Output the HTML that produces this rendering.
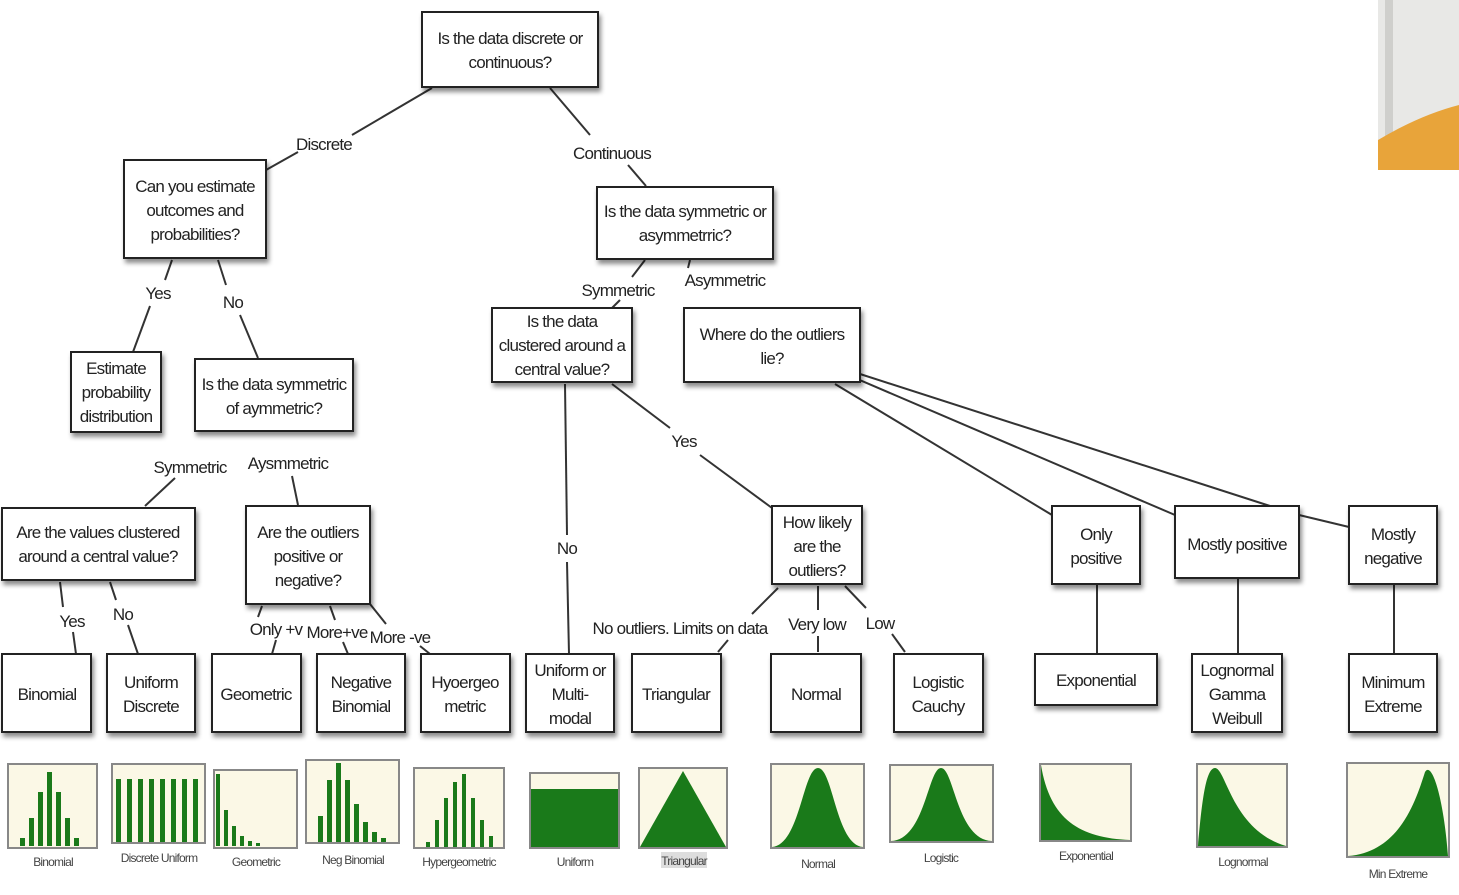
<!DOCTYPE html>
<html><head><meta charset="utf-8"><style>
html,body{margin:0;padding:0;background:#fff;}
svg{display:block;}
text{font-family:"Liberation Sans",sans-serif;font-size:17px;fill:#222;letter-spacing:-0.8px;}
.b{fill:#fff;stroke:#222;stroke-width:2;filter:url(#sh);}
.l{stroke:#333;stroke-width:2;fill:none;}
.t{fill:#fbf8e6;stroke:#888;stroke-width:2;}
.g{fill:#1a7a1a;}
.s{font-size:12px;fill:#444;}
</style></head><body>
<svg width="1459" height="895" viewBox="0 0 1459 895">
<defs><filter id="sh" x="-10%" y="-10%" width="130%" height="140%"><feDropShadow dx="2" dy="4" stdDeviation="2.5" flood-color="#000" flood-opacity="0.45"/></filter></defs>
<!-- photo -->
<rect x="1378" y="0" width="81" height="170" fill="#e8e8e6"/>
<rect x="1385" y="0" width="8" height="170" fill="#cfcfcc"/>
<path d="M1378 170 L1378 140 Q1420 115 1459 105 L1459 170 Z" fill="#e8a43a"/>
<!-- lines -->
<g class="l">
<line x1="432" y1="88" x2="352" y2="135"/><line x1="298" y1="152" x2="266" y2="170"/>
<line x1="550" y1="88" x2="590" y2="135"/><line x1="628" y1="165" x2="646" y2="186"/>
<line x1="172" y1="260" x2="165" y2="280"/><line x1="150" y1="306" x2="133" y2="352"/>
<line x1="218" y1="260" x2="226" y2="285"/><line x1="240" y1="315" x2="258" y2="358"/>
<line x1="645" y1="260" x2="632" y2="277"/><line x1="620" y1="300" x2="612" y2="308"/>
<line x1="690" y1="260" x2="688" y2="268"/>
<line x1="565" y1="384" x2="567" y2="535"/><line x1="567" y1="562" x2="569" y2="654"/>
<line x1="612" y1="384" x2="670" y2="428"/><line x1="700" y1="455" x2="772" y2="508"/>
<line x1="835" y1="384" x2="1052" y2="515"/>
<line x1="855" y1="378" x2="1175" y2="515"/>
<line x1="860" y1="374" x2="1270" y2="506"/><line x1="1299" y1="515" x2="1349" y2="527"/>
<line x1="175" y1="478" x2="145" y2="506"/>
<line x1="292" y1="476" x2="298" y2="505"/>
<line x1="60" y1="582" x2="63" y2="607"/><line x1="73" y1="632" x2="76" y2="654"/>
<line x1="110" y1="582" x2="116" y2="600"/><line x1="128" y1="625" x2="138" y2="654"/>
<line x1="262" y1="606" x2="258" y2="617"/><line x1="276" y1="640" x2="272" y2="654"/>
<line x1="330" y1="606" x2="335" y2="620"/><line x1="343" y1="642" x2="348" y2="654"/>
<line x1="370" y1="604" x2="386" y2="624"/><line x1="420" y1="646" x2="430" y2="654"/>
<line x1="778" y1="588" x2="752" y2="614"/><line x1="728" y1="640" x2="718" y2="652"/>
<line x1="818" y1="586" x2="818" y2="610"/><line x1="818" y1="636" x2="818" y2="652"/>
<line x1="845" y1="586" x2="866" y2="608"/><line x1="892" y1="634" x2="905" y2="652"/>
<line x1="1097" y1="584" x2="1097" y2="654"/>
<line x1="1238" y1="578" x2="1238" y2="654"/>
<line x1="1394" y1="584" x2="1394" y2="654"/>
</g>
<!-- boxes -->
<rect class="b" x="422" y="12" width="176" height="75"/>
<text x="510" y="44" text-anchor="middle">Is the data discrete or</text><text x="510" y="68" text-anchor="middle">continuous?</text>
<rect class="b" x="124" y="160" width="142" height="98"/>
<text x="195" y="192" text-anchor="middle">Can you estimate</text><text x="195" y="216" text-anchor="middle">outcomes and</text><text x="195" y="240" text-anchor="middle">probabilities?</text>
<rect class="b" x="597" y="187" width="176" height="72"/>
<text x="685" y="217" text-anchor="middle">Is the data symmetric or</text><text x="685" y="241" text-anchor="middle">asymmetrric?</text>
<rect class="b" x="71" y="352" width="90" height="80"/>
<text x="116" y="374" text-anchor="middle">Estimate</text><text x="116" y="398" text-anchor="middle">probability</text><text x="116" y="422" text-anchor="middle">distribution</text>
<rect class="b" x="195" y="359" width="158" height="72"/>
<text x="274" y="390" text-anchor="middle">Is the data symmetric</text><text x="274" y="414" text-anchor="middle">of aymmetric?</text>
<rect class="b" x="492" y="308" width="140" height="74"/>
<text x="562" y="327" text-anchor="middle">Is the data</text><text x="562" y="351" text-anchor="middle">clustered around a</text><text x="562" y="375" text-anchor="middle">central value?</text>
<rect class="b" x="684" y="308" width="176" height="74"/>
<text x="772" y="340" text-anchor="middle">Where do the outliers</text><text x="772" y="364" text-anchor="middle">lie?</text>
<rect class="b" x="2" y="508" width="193" height="72"/>
<text x="98" y="538" text-anchor="middle">Are the values clustered</text><text x="98" y="562" text-anchor="middle">around a central value?</text>
<rect class="b" x="246" y="506" width="124" height="98"/>
<text x="308" y="538" text-anchor="middle">Are the outliers</text><text x="308" y="562" text-anchor="middle">positive or</text><text x="308" y="586" text-anchor="middle">negative?</text>
<rect class="b" x="772" y="506" width="90" height="78"/>
<text x="817" y="528" text-anchor="middle">How likely</text><text x="817" y="552" text-anchor="middle">are the</text><text x="817" y="576" text-anchor="middle">outliers?</text>
<rect class="b" x="1052" y="506" width="88" height="78"/>
<text x="1096" y="540" text-anchor="middle">Only</text><text x="1096" y="564" text-anchor="middle">positive</text>
<rect class="b" x="1175" y="506" width="124" height="72"/>
<text x="1237" y="550" text-anchor="middle">Mostly positive</text>
<rect class="b" x="1349" y="506" width="88" height="78"/>
<text x="1393" y="540" text-anchor="middle">Mostly</text><text x="1393" y="564" text-anchor="middle">negative</text>
<!-- bottom row -->
<rect class="b" x="2" y="654" width="89" height="78"/><text x="47" y="700" text-anchor="middle">Binomial</text>
<rect class="b" x="107" y="654" width="88" height="78"/><text x="151" y="688" text-anchor="middle">Uniform</text><text x="151" y="712" text-anchor="middle">Discrete</text>
<rect class="b" x="212" y="654" width="89" height="78"/><text x="256" y="700" text-anchor="middle">Geometric</text>
<rect class="b" x="317" y="654" width="88" height="78"/><text x="361" y="688" text-anchor="middle">Negative</text><text x="361" y="712" text-anchor="middle">Binomial</text>
<rect class="b" x="421" y="654" width="89" height="78"/><text x="465" y="688" text-anchor="middle">Hyoergeo</text><text x="465" y="712" text-anchor="middle">metric</text>
<rect class="b" x="526" y="654" width="88" height="78"/><text x="570" y="676" text-anchor="middle">Uniform or</text><text x="570" y="700" text-anchor="middle">Multi-</text><text x="570" y="724" text-anchor="middle">modal</text>
<rect class="b" x="632" y="654" width="89" height="78"/><text x="676" y="700" text-anchor="middle">Triangular</text>
<rect class="b" x="771" y="654" width="90" height="78"/><text x="816" y="700" text-anchor="middle">Normal</text>
<rect class="b" x="894" y="654" width="89" height="78"/><text x="938" y="688" text-anchor="middle">Logistic</text><text x="938" y="712" text-anchor="middle">Cauchy</text>
<rect class="b" x="1035" y="654" width="122" height="51"/><text x="1096" y="686" text-anchor="middle">Exponential</text>
<rect class="b" x="1192" y="654" width="90" height="78"/><text x="1237" y="676" text-anchor="middle">Lognormal</text><text x="1237" y="700" text-anchor="middle">Gamma</text><text x="1237" y="724" text-anchor="middle">Weibull</text>
<rect class="b" x="1349" y="654" width="88" height="78"/><text x="1393" y="688" text-anchor="middle">Minimum</text><text x="1393" y="712" text-anchor="middle">Extreme</text>
<!-- edge labels -->
<text x="324" y="150" text-anchor="middle">Discrete</text>
<text x="612" y="159" text-anchor="middle">Continuous</text>
<text x="158" y="299" text-anchor="middle">Yes</text>
<text x="233" y="308" text-anchor="middle">No</text>
<text x="618" y="296" text-anchor="middle">Symmetric</text>
<text x="725" y="286" text-anchor="middle">Asymmetric</text>
<text x="684" y="447" text-anchor="middle">Yes</text>
<text x="567" y="554" text-anchor="middle">No</text>
<text x="190" y="473" text-anchor="middle">Symmetric</text>
<text x="288" y="469" text-anchor="middle">Aysmmetric</text>
<text x="72" y="627" text-anchor="middle">Yes</text>
<text x="123" y="620" text-anchor="middle">No</text>
<text x="276" y="635" text-anchor="middle">Only +v</text>
<text x="337" y="638" text-anchor="middle">More+ve</text>
<text x="400" y="643" text-anchor="middle">More -ve</text>
<text x="680" y="634" text-anchor="middle">No outliers. Limits on data</text>
<text x="817" y="630" text-anchor="middle">Very low</text>
<text x="880" y="629" text-anchor="middle">Low</text>
<!-- thumbnails -->
<rect class="t" x="8" y="764" width="89" height="84"/>
<g class="g"><rect x="20" y="838" width="5" height="8"/><rect x="29" y="818" width="5" height="28"/><rect x="38" y="792" width="5" height="54"/><rect x="47" y="772" width="5" height="74"/><rect x="56" y="792" width="5" height="54"/><rect x="65" y="818" width="5" height="28"/><rect x="74" y="838" width="5" height="8"/></g>
<rect class="t" x="112" y="764" width="93" height="79"/>
<g class="g"><rect x="116" y="779" width="5" height="63"/><rect x="127" y="779" width="5" height="63"/><rect x="138" y="779" width="5" height="63"/><rect x="149" y="779" width="5" height="63"/><rect x="160" y="779" width="5" height="63"/><rect x="171" y="779" width="5" height="63"/><rect x="182" y="779" width="5" height="63"/><rect x="193" y="779" width="5" height="63"/></g>
<rect class="t" x="214" y="770" width="83" height="78"/>
<g class="g"><rect x="216" y="774" width="4" height="72"/><rect x="224" y="810" width="4" height="36"/><rect x="232" y="826" width="4" height="20"/><rect x="240" y="836" width="4" height="10"/><rect x="248" y="841" width="4" height="5"/><rect x="256" y="843" width="4" height="3"/></g>
<rect class="t" x="306" y="760" width="93" height="83"/>
<g class="g"><rect x="318" y="816" width="5" height="26"/><rect x="327" y="780" width="5" height="62"/><rect x="336" y="763" width="5" height="79"/><rect x="345" y="780" width="5" height="62"/><rect x="354" y="804" width="5" height="38"/><rect x="363" y="822" width="5" height="20"/><rect x="372" y="832" width="5" height="10"/><rect x="381" y="838" width="5" height="4"/></g>
<rect class="t" x="414" y="768" width="90" height="80"/>
<g class="g"><rect x="426" y="842" width="4" height="5"/><rect x="435" y="820" width="4" height="27"/><rect x="444" y="798" width="4" height="49"/><rect x="453" y="782" width="4" height="65"/><rect x="462" y="774" width="4" height="73"/><rect x="471" y="798" width="4" height="49"/><rect x="480" y="820" width="4" height="27"/><rect x="489" y="836" width="4" height="11"/></g>
<rect class="t" x="530" y="773" width="89" height="75"/>
<rect class="g" x="531" y="789" width="87" height="58"/>
<rect class="t" x="639" y="768" width="88" height="80"/>
<polygon class="g" points="640,847 683,771 726,847"/>
<rect class="t" x="771" y="764" width="93" height="84"/>
<path class="g" d="M772 847 C800 845 803 768 818 768 C833 768 836 845 863 847 Z"/>
<rect class="t" x="890" y="765" width="103" height="77"/>
<path class="g" d="M891 841 C925 840 928 768 941 768 C954 768 957 840 992 841 Z"/>
<rect class="t" x="1040" y="764" width="91" height="77"/>
<path class="g" d="M1041 765 C1050 820 1080 838 1130 840 L1041 840 Z"/>
<rect class="t" x="1197" y="764" width="90" height="83"/>
<path class="g" d="M1198 846 C1202 800 1206 768 1215 768 C1226 768 1232 830 1286 846 Z"/>
<rect class="t" x="1347" y="763" width="102" height="94"/>
<path class="g" d="M1348 856 C1400 852 1416 800 1425 772 C1432 760 1444 800 1448 856 Z"/>
<text class="s" x="53" y="866" text-anchor="middle">Binomial</text>
<text class="s" x="159" y="862" text-anchor="middle">Discrete Uniform</text>
<text class="s" x="256" y="866" text-anchor="middle">Geometric</text>
<text class="s" x="353" y="864" text-anchor="middle">Neg Binomial</text>
<text class="s" x="459" y="866" text-anchor="middle">Hypergeometric</text>
<text class="s" x="575" y="866" text-anchor="middle">Uniform</text>
<rect x="661" y="852" width="46" height="16" fill="#ddd"/>
<text class="s" x="684" y="865" text-anchor="middle">Triangular</text>
<text class="s" x="818" y="868" text-anchor="middle">Normal</text>
<text class="s" x="941" y="862" text-anchor="middle">Logistic</text>
<text class="s" x="1086" y="860" text-anchor="middle">Exponential</text>
<text class="s" x="1243" y="866" text-anchor="middle">Lognormal</text>
<text class="s" x="1398" y="878" text-anchor="middle">Min Extreme</text>
</svg>
</body></html>
